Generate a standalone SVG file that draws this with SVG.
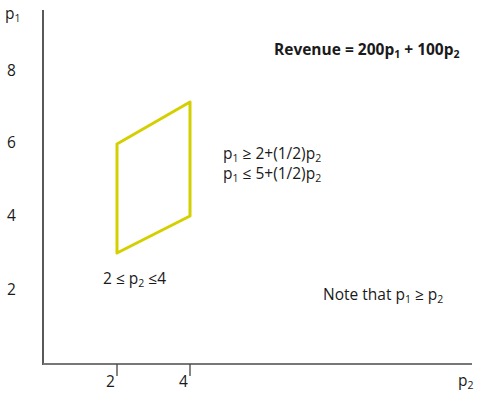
<svg xmlns="http://www.w3.org/2000/svg" width="478" height="395" viewBox="0 0 478 395">
<style>
text{font-family:"Open Sans","Liberation Sans",sans-serif;font-size:15.5px;fill:#1a1a1a}
.b{font-weight:bold;font-size:15.5px}
.s{font-size:10.5px}
.axis{stroke:#000;stroke-width:1.3;fill:none}
.xaxis{stroke:#777;stroke-width:2;fill:none}
.tick{stroke:#444;stroke-width:1.3}
.region{fill:none;stroke:#d4d000;stroke-width:3;stroke-linejoin:round}
</style>
<g id="axes">
<line class="axis" x1="43" y1="10" x2="43" y2="365"/>
<line class="xaxis" x1="43" y1="364" x2="472" y2="364"/>
<line class="tick" x1="117" y1="364" x2="117" y2="376"/>
<line class="tick" x1="190" y1="364" x2="190" y2="376"/>
</g>
<g id="labels">
<text x="5" y="19">p<tspan class="s" dy="3">1</tspan></text>
<text x="7" y="76">8</text>
<text x="7" y="148">6</text>
<text x="7" y="221">4</text>
<text x="7" y="295">2</text>
<text x="106" y="387">2</text>
<text x="179" y="387">4</text>
<text x="458" y="386">p<tspan class="s" dy="3">2</tspan></text>
</g>
<g id="region">
<polygon class="region" points="117,144 190,102 190,216 117,253"/>
</g>
<g id="revenue">
<text class="b" x="274" y="55">Revenue = 200p<tspan class="s" dy="3">1</tspan><tspan dy="-3"> + 100p</tspan><tspan class="s" dy="3">2</tspan></text>
</g>
<g id="constraints">
<text x="223" y="159">p<tspan class="s" dy="2.5">1</tspan><tspan dy="-2.5"> ≥ 2+(1/2)p</tspan><tspan class="s" dy="2.5">2</tspan></text>
<text x="223" y="179">p<tspan class="s" dy="2.5">1</tspan><tspan dy="-2.5"> ≤ 5+(1/2)p</tspan><tspan class="s" dy="2.5">2</tspan></text>
<text x="103" y="284">2 ≤ p<tspan class="s" dy="3">2</tspan><tspan dy="-3"> ≤4</tspan></text>
</g>
<g id="note">
<text x="323" y="300">Note that p<tspan class="s" dy="3">1</tspan><tspan dy="-3"> ≥ p</tspan><tspan class="s" dy="3">2</tspan></text>
</g>
</svg>
